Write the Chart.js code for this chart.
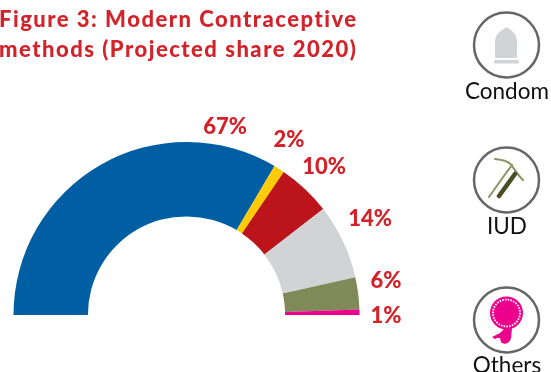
<!DOCTYPE html>
<html>
<head>
<meta charset="utf-8">
<title>Modern Contraceptive methods</title>
<script src="https://cdn.jsdelivr.net/npm/chart.js@4"></script>
<style>
    html, body { margin: 0; padding: 0; background: #fff; overflow: hidden; }
    #wrap { position: relative; width: 551px; height: 372px; overflow: hidden; font-family: Lato, sans-serif; }
    #shareChart { position: absolute; left: 0; top: 0; }
    #icons { position: absolute; left: 0; top: 0; }
    .title { position: absolute; left: -1px; color: #d2232a; font-weight: 900; font-size: 22px; line-height: 29px; white-space: nowrap; letter-spacing: 1.5px; }
    .caption { position: absolute; left: 457px; width: 100px; text-align: center; color: #111; font-size: 22.5px; line-height: 26px; }
</style>
</head>
<body>
<div id="wrap">
    <canvas id="shareChart" width="551" height="372"></canvas>
    <div class="title" style="top:4px">Figure 3: Modern Contraceptive</div>
    <div class="title" style="top:34px">methods (Projected share 2020)</div>

    <svg id="icons" width="551" height="372">
        <g fill="none" stroke="#666" stroke-width="2.5">
            <circle cx="506.5" cy="45" r="32.5"/>
            <circle cx="506.5" cy="180" r="32.5"/>
            <circle cx="506.5" cy="320" r="32.5"/>
        </g>
        <!-- condom -->
        <path d="M495 58 V43 C495 33 501 31 506.5 27 C512 31 517 33 517 43 V58 Z" fill="#d1d3d4"/>
        <rect x="494" y="60" width="25" height="3.5" rx="1.5" fill="#d1d3d4"/>
        <!-- IUD -->
        <g fill="none" stroke="#8a9463" stroke-width="2" stroke-linecap="round">
            <path d="M489 197 L506 173 C509 169 511 167 512 165"/>
            <path d="M495 159 C505 160 510 162 512 166 C515 170 518 175 523 180"/>
        </g>
        <path d="M499 196 L515 174" stroke="#4b4d24" stroke-width="4.5" stroke-linecap="round"/>
        <!-- others -->
        <circle cx="506.5" cy="313" r="16.5" fill="#ec008c"/>
        <circle cx="506.5" cy="313" r="13.5" fill="none" stroke="#fff" stroke-width="1.8" stroke-dasharray="1.6 1.2"/>
        <path d="M492 337 L500 333 L504 329 L512 328 L511 338 C510 344 503 345 501 342 L500 338 L497 338 L495 339 Z" fill="#ec008c"/>
    </svg>

    <div class="caption" style="top:78px">Condom</div>
    <div class="caption" style="top:213px">IUD</div>
    <div class="caption" style="top:352px">Others</div>
</div>

<script>
// Projected share of modern methods, 2020
const methods = ['Method A', 'Method B', 'Method C', 'Condom', 'IUD', 'Others'];
const shares = [67, 2, 10, 14, 6, 1];
const sliceColors = ['#005ea2', '#ffcb05', '#bb141a', '#d1d3d4', '#7f8a58', '#ec008c'];

// label anchor (x, y), hand placed around the arc
const labelSpots = [[225, 127], [289, 140], [324, 167], [370, 219], [386, 281], [386, 316]];

const shareLabels = {
    id: 'shareLabels',
    afterDatasetsDraw(chart) {
        const ctx = chart.ctx;
        ctx.save();
        ctx.fillStyle = '#d2232a';
        ctx.font = '900 22px Lato, sans-serif';
        ctx.textAlign = 'center';
        ctx.textBaseline = 'middle';
        shares.forEach((value, i) => {
            ctx.fillText(value + '%', labelSpots[i][0], labelSpots[i][1]);
        });
        ctx.restore();
    }
};

new Chart(document.getElementById('shareChart'), {
    type: 'doughnut',
    data: {
        labels: methods,
        datasets: [{
            data: shares,
            backgroundColor: sliceColors,
            borderWidth: 0
        }]
    },
    options: {
        responsive: false,
        animation: false,
        rotation: -90,
        circumference: 180,
        cutout: '57%',
        layout: { padding: { left: 13, right: 191, top: 142, bottom: 57 } },
        plugins: {
            legend: { display: false },
            tooltip: { enabled: false }
        }
    },
    plugins: [shareLabels]
});
</script>
</body>
</html>
